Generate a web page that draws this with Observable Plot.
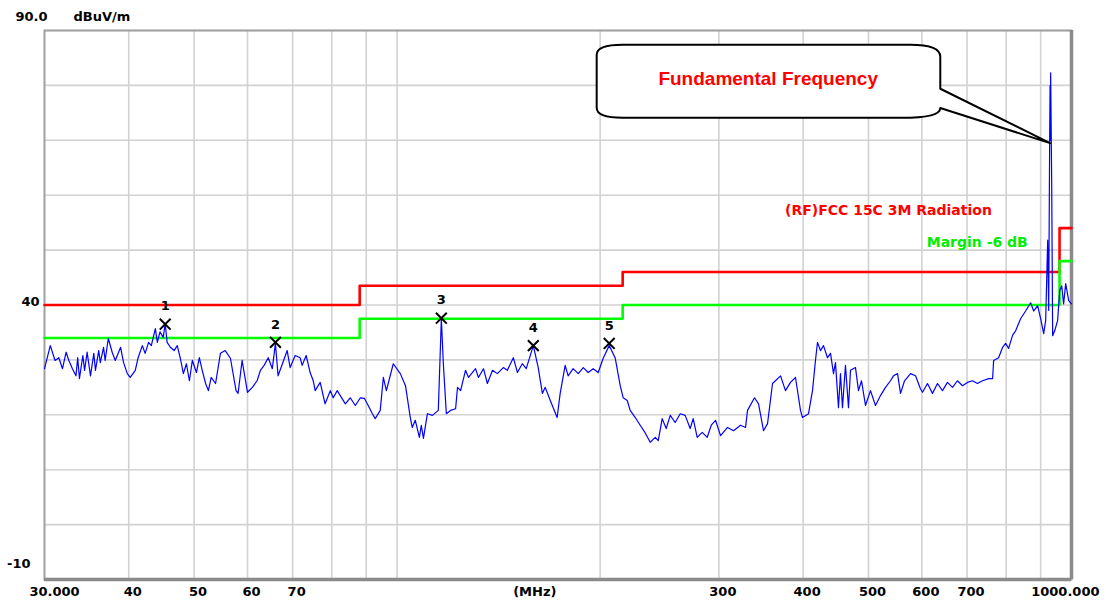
<!DOCTYPE html>
<html><head><meta charset="utf-8">
<script src="https://cdn.jsdelivr.net/npm/d3@7"></script>
<script src="https://cdn.jsdelivr.net/npm/@observablehq/plot@0.6"></script>
<style>body{margin:0;background:#fff} svg{display:block}</style>
</head><body><div id="chart"></div>
<script>
// ---- data ----
const specFreq = [30,30.6,31.1,31.5,31.9,32.3,32.6,33.0,33.4,33.6,33.8,34.2,34.4,34.7,35.1,35.5,35.7,36.1,36.3,36.7,36.9,37.3,37.8,38.2,38.9,39.3,39.8,40.2,40.9,41.3,41.9,42.3,42.8,43.2,43.8,44.1,44.5,45.0,45.3,45.6,46.1,46.7,47.2,47.7,48.2,48.7,49.2,49.7,50.4,50.9,51.4,52.0,52.5,53.0,53.8,54.7,55.6,56.6,57.7,58.1,58.9,60.0,61.0,62.0,62.7,63.5,64.4,65.3,66.0,66.6,67.6,68.7,69.4,70.6,71.8,72.3,73.3,74.3,75.1,75.6,76.9,78.2,79.6,80.4,81.5,83.8,85.2,86.7,88.2,89.4,90.6,91.9,92.8,94.4,95.4,96.4,98.7,101.1,102.9,104.6,105.3,106.4,107.9,108.6,109.4,110.9,112.8,115.1,116.3,117.1,118.3,120.0,122.1,122.9,124.2,126.3,127.6,130.7,132.0,134.3,136.1,138.5,140.8,143.7,145.7,148.7,150.8,153.3,155.4,159.2,161.9,164.2,165.8,168.7,172.7,174.5,177.5,179.3,182.4,185.6,188.8,192.0,195.3,198.7,202.1,206.3,210.5,214.2,216.4,219.4,221.6,225.5,229.3,233.3,237.3,241.4,243.9,247.2,250.6,254.1,258.4,262.9,267.4,272,274.8,278.6,283.4,288.3,292.3,296.6,301.7,309,315.4,323,328.6,330.8,338.8,343.5,349.4,354.2,360.3,370.3,376.6,383.1,389.7,396.4,399.1,407.4,413,417.2,420.1,424.4,428.8,434.7,439.2,443.7,446.7,451.3,454.4,457.5,462.2,467,470.2,478.3,483.2,488.2,494.9,503.4,512.1,520.9,529.9,539,544.6,552.1,557.8,565.5,577.2,587.1,597.2,601.3,611.6,622.1,632.8,643.7,654.8,666.1,677.5,689.2,701,713.1,725.4,737.9,753.6,763.9,766.5,779.7,790.4,798.6,806.8,817.9,826.3,840.5,855,869.8,878.7,890.8,900,909.4,915.6,921.9,925.1,928.3,929.5,930.5,931.3,934.5,937.7,944.2,953.8,960.4,967.1,973.5,980.3,990.5,1000];
const specLevel = [28.4,32.6,29.9,30.4,28.4,31.4,29.9,28.4,27.1,30.4,26.6,30.8,28.1,31.4,27.1,31.2,28.1,31.7,29.5,32.3,29.9,33.9,31.4,29.9,32.3,29.5,27.5,26.8,28.1,30.4,32.6,31.2,33.2,32.6,35.7,33.2,35.1,34.1,36.6,33.2,32.3,31.7,32.6,30.3,27.5,29.3,26.2,29.9,27.7,30.4,28.1,25.7,24.4,26.8,25.7,31.2,31.7,30.3,24.4,23.9,29.9,24.1,25.0,26.2,28.1,29.0,30.4,28.4,33.0,27.1,29.3,31.7,28.6,30.8,30.4,29.0,30.8,27.7,26.2,24.4,25.9,22.0,24.4,23.1,24.4,22.0,23.1,21.7,23.1,23.0,21.7,20.2,19.3,20.8,26.8,24.4,29.3,27.5,25.3,19.5,17.7,19.0,15.9,18.1,15.7,20.2,19.9,20.8,37.5,29.3,20.2,20.8,21.1,25.0,24.4,28.1,26.8,28.4,26.8,28.4,25.7,28.1,27.5,28.6,28.1,30.4,27.7,29.3,28.4,32.6,28.6,23.9,25.0,22.6,19.5,23.9,29.0,27.1,28.4,27.5,28.6,27.7,28.4,27.7,30.3,32.6,30.4,25.3,23.1,22.6,20.8,19.5,18.1,16.7,15.0,15.9,15.3,19.3,17.5,19.9,18.6,20.2,19.9,17.5,19.3,15.9,16.8,15.9,18.1,19.0,16.2,17.7,17.1,18.1,17.7,20.8,23.1,22.0,17.1,18.4,25.7,27.1,24.4,25.9,26.8,20.8,19.5,20.2,24.4,29.9,33.2,31.7,32.6,30.4,31.2,27.5,29.5,21.3,27.5,21.3,29.0,21.3,28.1,28.6,24.4,26.2,21.7,24.4,21.7,23.5,25.0,26.2,27.1,27.5,23.9,26.2,27.5,27.1,24.7,24.1,25.7,23.9,25.7,24.4,25.9,25.0,26.2,25.3,25.9,26.2,25.7,26.2,26.6,26.6,29.9,30.4,32.3,33.0,32.1,34.5,35.3,37.5,38.9,40.4,38.9,39.9,37.5,34.8,37.2,51.8,39.0,71.8,80.0,70.0,82.3,62.7,34.4,35.3,37.2,42.6,43.5,40.2,43.9,40.8,40.2];

const limitFreq  = [30, 88, 216, 960, 1000];
const limitLevel = [40, 43.5, 46, 54, 54];
const marginDb = -6;

const markerFreq   = [45.3, 66.0, 116.3, 159.2, 206.3];
const markerLevel  = [36.5, 33.2, 37.6, 32.6, 33.0];
const markerLabels = ["1", "2", "3", "4", "5"];

const xGrid = [40, 50, 60, 70, 80, 90, 100, 200, 300, 400, 500, 600, 700, 800, 900];
const xTickValues = [30, 40, 50, 60, 70, 300, 400, 500, 600, 700, 1000];
const xTickLabels = ["30.000", "40", "50", "60", "70", "300", "400", "500", "600", "700", "1000.000"];
const xUnitLabel = "(MHz)";
const xUnitAt = 160;

const yGrid = [-10, 0, 10, 20, 30, 40, 50, 60, 70, 80, 90];
const yTickValues = [90, 40, -10];
const yTickLabels = ["90.0", "40", "-10"];
const yUnitLabel = "dBuV/m";

const limitName = "(RF)FCC 15C 3M Radiation";
const marginName = "Margin -6 dB";
const calloutText = "Fundamental Frequency";

// annotation anchors in data units
const callout = {left: 198, right: 640, top: 87.3, bottom: 74.0, textFreq: 355, textLevel: 81.1,
                 tailTop: 79.3, tailBottom: 75.8, tipFreq: 931, tipLevel: 69.4};
const legendAt = {limitFreq: 376, limitLevel: 57.2, marginFreq: 610, marginLevel: 51.4};

// ---- tables ----
const spectrum = specFreq.map((f, i) => ({f, v: specLevel[i]}));
const limit = limitFreq.map((f, i) => ({f, v: limitLevel[i]}));
const marginLine = limitFreq.map((f, i) => ({f, v: limitLevel[i] + marginDb}));
const markers = markerFreq.map((f, i) => ({f, v: markerLevel[i], label: markerLabels[i]}));
const xTicks = xTickValues.map((v, i) => ({v, label: xTickLabels[i], i}));
const yTicks = yTickValues.map((v, i) => ({v, label: yTickLabels[i]}));

const FONT = "DejaVu Sans";
const last = xTicks.length - 1;

const chart = Plot.plot({
  width: 1106, height: 605,
  marginLeft: 44, marginRight: 35, marginTop: 30, marginBottom: 26,
  style: {fontFamily: FONT, background: "#fff", overflow: "visible"},
  x: {type: "log", domain: [30, 1000], range: [44, 1071], axis: null},
  y: {domain: [-10, 90], axis: null},
  marks: [
    Plot.ruleX(xGrid, {stroke: "#d2d2d2", strokeWidth: 1.6}),
    Plot.ruleY(yGrid, {stroke: "#d2d2d2", strokeWidth: 1.6}),
    Plot.frame({stroke: "#a0a0a0", strokeWidth: 2}),
    Plot.ruleX([1000], {stroke: "#8a8a8a", strokeWidth: 3.5}),
    Plot.ruleY([-10], {stroke: "#8a8a8a", strokeWidth: 3.5}),
    Plot.line(limit, {x: "f", y: "v", curve: "step-after", stroke: "#ff0000", strokeWidth: 2.6}),
    Plot.line(marginLine, {x: "f", y: "v", curve: "step-after", stroke: "#00ff00", strokeWidth: 2.6}),
    Plot.line(spectrum, {x: "f", y: "v", stroke: "#0000ff", strokeWidth: 1.2}),
    Plot.dot(markers, {x: "f", y: "v", symbol: "times", r: 5, stroke: "#000", strokeWidth: 2}),
    Plot.text(markers, {x: "f", y: "v", text: "label", dy: -18, fontSize: 13, fontWeight: "bold", fill: "#000"}),
    // x tick labels
    Plot.text(xTicks, {filter: d => d.i === 0, x: "v", y: () => -10, text: "label", dy: 12, dx: -15, textAnchor: "start", fontSize: 13, fontWeight: "bold", fill: "#000"}),
    Plot.text(xTicks, {filter: d => d.i > 0 && d.i < last, x: "v", y: () => -10, text: "label", dy: 12, dx: 4, fontSize: 13, fontWeight: "bold", fill: "#000"}),
    Plot.text(xTicks, {filter: d => d.i === last, x: "v", y: () => -10, text: "label", dy: 12, dx: 28, textAnchor: "end", fontSize: 13, fontWeight: "bold", fill: "#000"}),
    Plot.text([xUnitLabel], {x: () => xUnitAt, y: () => -10, text: d => d, dy: 12, fontSize: 13, fontWeight: "bold", fill: "#000"}),
    // y tick labels
    Plot.text(yTicks.filter(d => d.v === 90), {x: () => 30, y: "v", text: "label", dx: -29, dy: -14, textAnchor: "start", fontSize: 13, fontWeight: "bold", fill: "#000"}),
    Plot.text([yUnitLabel], {x: () => 30, y: () => 90, text: d => d, dx: 29, dy: -14, textAnchor: "start", fontSize: 13, fontWeight: "bold", fill: "#000"}),
    Plot.text(yTicks.filter(d => d.v === 40), {x: () => 30, y: "v", text: "label", dx: -5, dy: -3, textAnchor: "end", fontSize: 13, fontWeight: "bold", fill: "#000"}),
    Plot.text(yTicks.filter(d => d.v === -10), {x: () => 30, y: "v", text: "label", dx: -14, dy: -16, textAnchor: "end", fontSize: 13, fontWeight: "bold", fill: "#000"}),
    // legend labels
    Plot.text([limitName], {x: () => legendAt.limitFreq, y: () => legendAt.limitLevel, text: d => d, textAnchor: "start", fontSize: 14, fontWeight: "bold", fill: "#ff0000"}),
    Plot.text([marginName], {x: () => legendAt.marginFreq, y: () => legendAt.marginLevel, text: d => d, textAnchor: "start", fontSize: 14, fontWeight: "bold", fill: "#00ee00"}),
    // callout text
    Plot.text([calloutText], {x: () => callout.textFreq, y: () => callout.textLevel, text: d => d, fontFamily: "Liberation Sans, Arial, sans-serif", fontSize: 19, fontWeight: "bold", fill: "#ff0000"})
  ]
});
document.getElementById("chart").appendChild(chart);

// callout balloon drawn from the plot's own scales
const sx = chart.scale("x"), sy = chart.scale("y");
const L = sx.apply(callout.left), R = sx.apply(callout.right);
const T = sy.apply(callout.top), B = sy.apply(callout.bottom);
const p1 = sy.apply(callout.tailTop), p2 = sy.apply(callout.tailBottom);
const tx = sx.apply(callout.tipFreq), ty = sy.apply(callout.tipLevel);
const rl = 26, rly = 10, rr = 30, rry = 12;
const d = `M${L + rl},${T} H${R - rr} Q${R},${T} ${R},${T + rry} V${p1} L${tx},${ty} L${R},${p2} Q${R},${B} ${R - rr * 1.3},${B} H${L + rl} Q${L},${B} ${L},${B - rly} V${T + rly} Q${L},${T} ${L + rl},${T} Z`;
const ns = "http://www.w3.org/2000/svg";
const path = document.createElementNS(ns, "path");
path.setAttribute("d", d);
path.setAttribute("fill", "#fff");
path.setAttribute("stroke", "#000");
path.setAttribute("stroke-width", "2");
path.setAttribute("stroke-linejoin", "round");
const firstText = chart.querySelector('g[aria-label="text"]');
chart.insertBefore(path, firstText);
</script>
</body></html>
